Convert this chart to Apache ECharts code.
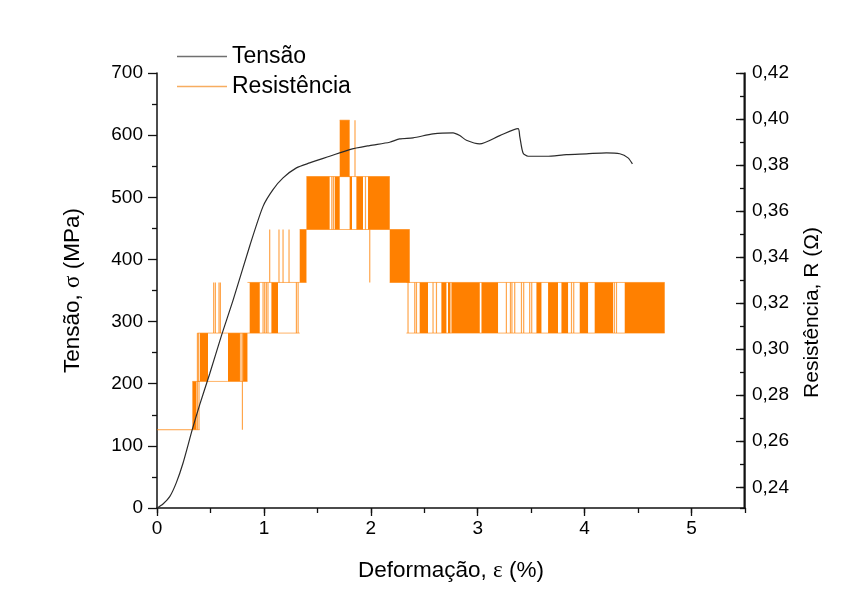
<!DOCTYPE html>
<html>
<head>
<meta charset="utf-8">
<title>Tensão e Resistência x Deformação</title>
<script src="https://cdn.jsdelivr.net/npm/echarts/dist/echarts.min.js"></script>
<style>
  html, body { margin: 0; padding: 0; background: #fff; }
  #chart { width: 845px; height: 597px; }
</style>
</head>
<body>
<div id="chart"></div>
<script>
// Tensile curve: strain (%) and stress (MPa)
const strain = [0, 0.056, 0.119, 0.181, 0.243, 0.331, 0.399, 0.493, 0.602, 0.711, 0.868, 0.992,
  1.085, 1.179, 1.304, 1.428, 1.615, 1.802, 1.989, 2.176, 2.270, 2.395, 2.582, 2.769, 2.832,
  2.894, 3.018, 3.206, 3.377, 3.393, 3.424, 3.471, 3.643, 3.830, 4.017, 4.204, 4.329, 4.406, 4.447];
const stress = [0, 6.4, 18.2, 40.8, 72, 126.8, 166, 216, 277, 334, 422, 485.4,
  512.3, 531.2, 547.3, 555.3, 566, 576.8, 583.2, 588.5, 594, 595.6, 602, 603.7, 599.3,
  591.8, 586, 599.3, 610.6, 598.2, 571.4, 566, 566, 568.7, 570, 571.5, 570, 563.4, 553.7];

// Resistance (ohm): flat start before the first switching
const resStart = [[0, 0.265], [0.331, 0.265]];

// Episodes where the reading switched between two levels: [strain0, strain1, lower, upper]
const resSpans = [
  [0.331, 0.399, 0.265, 0.286],
  [0.378, 0.659, 0.286, 0.307],
  [0.659, 0.846, 0.286, 0.307],
  [0.846, 1.335, 0.307, 0.329],
  [1.335, 1.398, 0.329, 0.352],
  [1.398, 2.177, 0.352, 0.375],
  [1.709, 1.802, 0.375, 0.3995],
  [2.177, 2.364, 0.329, 0.352],
  [2.333, 4.749, 0.307, 0.329]
];

// Stretches switching too fast to resolve: [strain0, strain1, lower, upper]
const resDense = [
  [0.331, 0.369, 0.265, 0.286],
  [0.400, 0.477, 0.286, 0.307],
  [0.664, 0.776, 0.286, 0.307],
  [0.805, 0.846, 0.286, 0.307],
  [0.867, 0.961, 0.307, 0.329],
  [1.070, 1.132, 0.307, 0.329],
  [1.335, 1.398, 0.329, 0.352],
  [1.398, 1.615, 0.352, 0.375],
  [1.662, 1.709, 0.352, 0.375],
  [1.709, 1.802, 0.375, 0.3995],
  [1.802, 1.824, 0.352, 0.375],
  [1.865, 1.927, 0.352, 0.375],
  [1.974, 2.177, 0.352, 0.375],
  [2.177, 2.364, 0.329, 0.352],
  [2.457, 2.535, 0.307, 0.329],
  [2.660, 2.707, 0.307, 0.329],
  [2.722, 2.745, 0.307, 0.329],
  [2.754, 3.019, 0.307, 0.329],
  [3.035, 3.190, 0.307, 0.329],
  [3.549, 3.596, 0.307, 0.329],
  [3.658, 3.751, 0.307, 0.329],
  [3.783, 3.845, 0.307, 0.329],
  [3.954, 4.032, 0.307, 0.329],
  [4.094, 4.266, 0.307, 0.329],
  [4.375, 4.749, 0.307, 0.329]
];

// Single switches: [strain, lower, upper]
const resSpikes = [
  [0.378, 0.265, 0.286], [0.393, 0.265, 0.286],
  [0.378, 0.286, 0.307], [0.388, 0.286, 0.307],
  [0.530, 0.307, 0.329], [0.546, 0.307, 0.329], [0.580, 0.307, 0.329], [0.593, 0.307, 0.329],
  [0.785, 0.286, 0.307], [0.799, 0.265, 0.307],
  [0.992, 0.307, 0.329], [1.007, 0.307, 0.329], [1.023, 0.307, 0.329], [1.038, 0.307, 0.329],
  [1.304, 0.307, 0.329], [1.320, 0.307, 0.329],
  [1.054, 0.329, 0.352], [1.141, 0.329, 0.352], [1.179, 0.329, 0.352], [1.235, 0.329, 0.352],
  [1.635, 0.352, 0.375], [1.650, 0.352, 0.375],
  [1.852, 0.375, 0.3995],
  [1.950, 0.352, 0.375], [1.990, 0.329, 0.352],
  [2.348, 0.307, 0.329], [2.411, 0.307, 0.329], [2.427, 0.307, 0.329],
  [2.582, 0.307, 0.329], [2.614, 0.307, 0.329],
  [3.268, 0.307, 0.329], [3.306, 0.307, 0.329], [3.320, 0.307, 0.329], [3.346, 0.307, 0.329],
  [3.409, 0.307, 0.329], [3.430, 0.307, 0.329], [3.486, 0.307, 0.329], [3.505, 0.307, 0.329],
  [3.877, 0.307, 0.329], [3.898, 0.307, 0.329],
  [4.278, 0.307, 0.329], [4.298, 0.307, 0.329]
];

// Axis tick values
const strainTicks = [0, 1, 2, 3, 4, 5];
const strainMax = 5.5;
const stressRange = [0, 700];
const resRange = [0.231, 0.42];

const FONT = "'Liberation Sans', Arial, sans-serif";
const ORANGE = '#ff8000';
const AXIS = '#111';

const chart = echarts.init(document.getElementById('chart'), null, { renderer: 'canvas' });

const mkAxisLine = () => ({ show: true, onZero: false, lineStyle: { color: AXIS, width: 1.5 } });
const tickStyle = { color: AXIS, width: 1.3 };
const labelStyle = { color: '#000', fontSize: 19, fontFamily: FONT };
const nameStyle = (size) => ({
  color: '#000', fontSize: size, fontFamily: FONT,
  rich: { g: { fontFamily: "'Liberation Serif', 'DejaVu Serif', serif", fontSize: size + 0.5, color: '#000' } }
});

const option = {
  animation: false,
  backgroundColor: '#fff',
  grid: { left: 157, right: 100, top: 73, bottom: 89 },
  legend: {
    orient: 'vertical',
    left: 172,
    top: 40,
    itemWidth: 50,
    itemHeight: 1.6,
    itemGap: 7,
    textStyle: { fontSize: 23, fontFamily: FONT, color: '#000' },
    data: [
      { name: 'Tensão', icon: 'rect', itemStyle: { color: '#707070' } },
      { name: 'Resistência', icon: 'rect', itemStyle: { color: '#f7ad60' } }
    ]
  },
  xAxis: [
    {
      type: 'value', min: 0, max: strainMax, interval: 1, position: 'bottom',
      axisLine: mkAxisLine(),
      axisTick: { show: true, length: 8, lineStyle: tickStyle },
      axisLabel: Object.assign({
        margin: 11, showMaxLabel: false,
        formatter: v => (strainTicks.includes(v) ? String(v) : '')
      }, labelStyle),
      splitLine: { show: false },
      name: 'Deformação, {g|ε} (%)', nameLocation: 'middle', nameGap: 51,
      nameTextStyle: nameStyle(22.5)
    },
    {
      // minor ticks every 0.5 %
      type: 'value', min: 0, max: strainMax, interval: 0.5, position: 'bottom',
      axisLine: { show: false, onZero: false },
      axisTick: { show: true, length: 5, lineStyle: tickStyle },
      axisLabel: { show: false },
      splitLine: { show: false }
    }
  ],
  yAxis: [
    {
      type: 'value', min: stressRange[0], max: stressRange[1], interval: 100, position: 'left',
      axisLine: mkAxisLine(),
      axisTick: { show: true, length: 9, lineStyle: tickStyle },
      minorTick: { show: true, splitNumber: 2, length: 5, lineStyle: tickStyle },
      axisLabel: Object.assign({ margin: 14 }, labelStyle),
      splitLine: { show: false },
      name: 'Tensão, {g|σ} (MPa)', nameLocation: 'middle', nameGap: 73, nameRotate: 90,
      nameTextStyle: nameStyle(22.5)
    },
    {
      type: 'value', min: resRange[0], max: resRange[1], splitNumber: 9, position: 'right',
      axisLine: mkAxisLine(),
      axisTick: { show: true, inside: true, length: 9, lineStyle: tickStyle },
      axisLabel: Object.assign({
        margin: 7, showMinLabel: false,
        formatter: v => {
          if (Math.abs(v * 50 - Math.round(v * 50)) > 1e-6) return '';
          return v.toFixed(2).replace('.', ',');
        }
      }, labelStyle),
      splitLine: { show: false },
      name: 'Resistência, R (Ω)', nameLocation: 'middle', nameGap: 57, nameRotate: 90,
      nameTextStyle: Object.assign(nameStyle(21), { padding: [0, 44, 0, 0] })
    },
    {
      // minor ticks every 0.01 ohm
      type: 'value', min: resRange[0], max: resRange[1], splitNumber: 19, position: 'right',
      axisLine: { show: false, onZero: false },
      axisTick: { show: true, inside: true, length: 5, lineStyle: tickStyle },
      axisLabel: { show: false },
      splitLine: { show: false }
    }
  ],
  series: [
    {
      name: 'Resistência', type: 'line', xAxisIndex: 0, yAxisIndex: 1,
      data: resStart, step: 'end', symbol: 'none',
      lineStyle: { color: ORANGE, width: 1, opacity: 0.75 },
      itemStyle: { color: ORANGE }, z: 2
    },
    {
      name: 'Resistência', type: 'custom', xAxisIndex: 0, yAxisIndex: 1,
      data: resSpans, encode: { x: [0, 1], y: [2, 3] }, z: 2,
      renderItem: (params, api) => {
        const a = api.coord([api.value(0), api.value(2)]);
        const b = api.coord([api.value(1), api.value(3)]);
        const st = { stroke: ORANGE, lineWidth: 1, opacity: 0.6 };
        return {
          type: 'group',
          children: [
            { type: 'line', shape: { x1: a[0], y1: a[1], x2: b[0], y2: a[1] }, style: st },
            { type: 'line', shape: { x1: a[0], y1: b[1], x2: b[0], y2: b[1] }, style: st }
          ]
        };
      }
    },
    {
      name: 'Resistência', type: 'custom', xAxisIndex: 0, yAxisIndex: 1,
      data: resDense, encode: { x: [0, 1], y: [2, 3] }, z: 2,
      renderItem: (params, api) => {
        const a = api.coord([api.value(0), api.value(3)]);
        const b = api.coord([api.value(1), api.value(2)]);
        return {
          type: 'rect',
          shape: { x: a[0], y: a[1], width: Math.max(b[0] - a[0], 1), height: b[1] - a[1] },
          style: { fill: ORANGE }
        };
      }
    },
    {
      name: 'Resistência', type: 'custom', xAxisIndex: 0, yAxisIndex: 1,
      data: resSpikes, encode: { x: 0, y: [1, 2] }, z: 2,
      renderItem: (params, api) => {
        const a = api.coord([api.value(0), api.value(1)]);
        const b = api.coord([api.value(0), api.value(2)]);
        return {
          type: 'line',
          shape: { x1: a[0], y1: a[1], x2: b[0], y2: b[1] },
          style: { stroke: ORANGE, lineWidth: 1.2, opacity: 0.7 }
        };
      }
    },
    {
      name: 'Tensão', type: 'line', xAxisIndex: 0, yAxisIndex: 0,
      data: strain.map((x, i) => [x, stress[i]]),
      symbol: 'none', smooth: 0.25,
      lineStyle: { color: '#2b2b2b', width: 1.2 },
      itemStyle: { color: '#2b2b2b' }, z: 5
    },
    {
      // right-hand frame: a thin bar along the end of the strain axis, full stress height
      name: 'Eixo direito', type: 'custom', xAxisIndex: 0, yAxisIndex: 0,
      data: [[strainMax, stressRange[0], stressRange[1]]], encode: { x: 0, y: [1, 2] },
      silent: true, clip: false, z: 10,
      renderItem: (params, api) => {
        const a = api.coord([api.value(0), api.value(1)]);
        const b = api.coord([api.value(0), api.value(2)]);
        return {
          type: 'rect',
          shape: { x: a[0] - 1.5, y: b[1], width: 1.5, height: a[1] - b[1] },
          style: { fill: AXIS }
        };
      }
    }
  ]
};

chart.setOption(option);
</script>
</body>
</html>
